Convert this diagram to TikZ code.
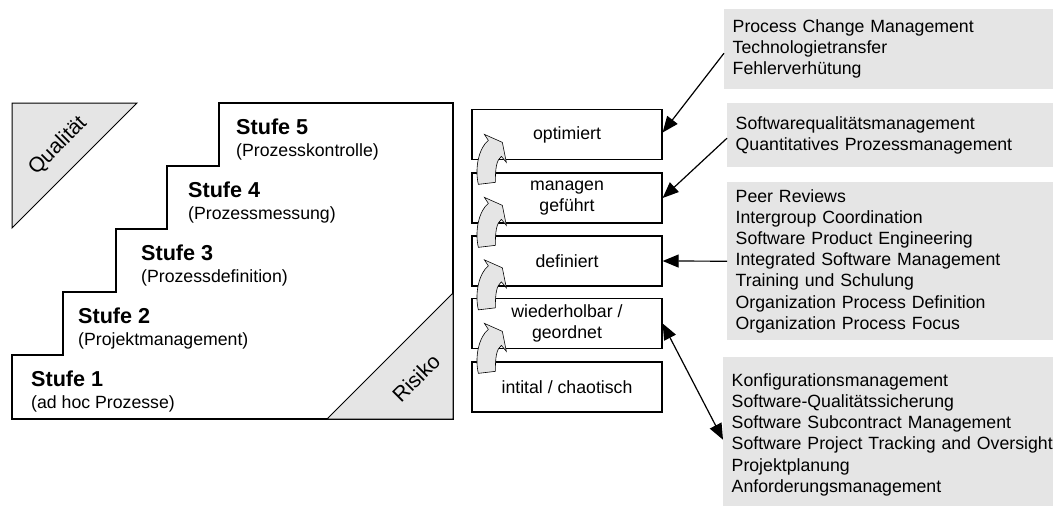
\documentclass[tikz,border=0pt]{standalone}
\usepackage{fontspec}
\setmainfont{Liberation Sans}
\usetikzlibrary{arrows.meta}

% gebogener Pfeil zwischen zwei Reifegraden
\newcommand{\stufenpfeil}[1]{%
  \filldraw[bogen, shift={(#1)}] (7,12) .. controls (3,-5) and (8,-25) .. (17,-32)
    -- (13,-38) -- (31,-30) -- (35,-10) -- (30,-16)
    .. controls (25,-12) and (24,-4) .. (24,10) -- cycle;}

\begin{document}
\begin{tikzpicture}[x=1pt, y=-1pt,
    lvl/.style={draw=black, line width=1.3pt, minimum width=190pt, minimum height=50pt, align=center, inner sep=0pt},
    infobox/.style={fill=gray!20, anchor=north west, inner xsep=8.5pt, inner ysep=0pt, align=left, text width=340pt},
    stufe/.style={anchor=base west, inner sep=0pt, font=\fontsize{21.6}{24}\selectfont\bfseries},
    subline/.style={anchor=base west, inner sep=0pt},
    tri/.style={fill=gray!20, draw=black, line width=1pt},
    trilabel/.style={rotate=45, font=\fontsize{21}{24}\selectfont},
    bogen/.style={fill=gray!20, draw=black, line width=0.6pt},
    conn/.style={-{Triangle[length=16pt,width=13pt]}, line width=1.2pt},
    font=\fontsize{17.7}{21.2}\selectfont
  ]
  \useasboundingbox (0,0) rectangle (1053,506);

  % Treppe
  \draw[line width=1.3pt] (12,419) -- (12,355) -- (63,355) -- (63,292) -- (116,292)
    -- (116,229) -- (167,229) -- (167,166) -- (219,166) -- (219,103) -- (453,103)
    -- (453,419) -- cycle;
  \draw[tri] (12,103) -- (137,103) -- (12,228) -- cycle;
  \draw[tri] (453,293) -- (453,419) -- (327,419) -- cycle;
  \node[trilabel] (qual) at (58,146) {Qualität};
  \node[trilabel] (risk) at (416,378) {Risiko};

  % Stufen
  \node[stufe] (s5) at (236,134) {Stufe 5};
  \node[subline] (s5b) at (236,156) {(Prozesskontrolle)};
  \node[stufe] (s4) at (188,197) {Stufe 4};
  \node[subline] (s4b) at (188,219) {(Prozessmessung)};
  \node[stufe] (s3) at (141,260) {Stufe 3};
  \node[subline] (s3b) at (141,282) {(Prozessdefinition)};
  \node[stufe] (s2) at (78,323) {Stufe 2};
  \node[subline] (s2b) at (78,345) {(Projektmanagement)};
  \node[stufe] (s1) at (31,386) {Stufe 1};
  \node[subline] (s1b) at (31,408) {(ad hoc Prozesse)};

  % Reifegrade
  \node[lvl] (l5) at (567,134.5) {optimiert};
  \node[lvl] (l4) at (567,198) {managen\\geführt};
  \node[lvl] (l3) at (567,261) {definiert};
  \node[lvl] (l2) at (567,323.5) {wiederholbar /\\geordnet};
  \node[lvl] (l1) at (567,387) {intital / chaotisch};

  \stufenpfeil{l4.north west}
  \stufenpfeil{l3.north west}
  \stufenpfeil{l2.north west}
  \stufenpfeil{l1.north west}

  % Schluesselbereiche
  \node[infobox, minimum height=80pt] (pA) at (724,9)
    {Process Change Management\\Technologietransfer\\Fehlerverhütung};
  \node[infobox, minimum height=64pt] (pB) at (727,103)
    {Softwarequalitätsmanagement\\Quantitatives Prozessmanagement};
  \node[infobox, minimum height=158pt] (pC) at (727,182)
    {Peer Reviews\\Intergroup Coordination\\Software Product Engineering\\Integrated Software Management\\Training und Schulung\\Organization Process Definition\\Organization Process Focus};
  \node[infobox, minimum height=155pt] (pD) at (723,357)
    {Konfigurationsmanagement\\Software-Qualitätssicherung\\Software Subcontract Management\\Software Project Tracking and Oversight\\Projektplanung\\Anforderungsmanagement};

  \draw[conn] ([yshift=-4pt]pA.west) -- ([yshift=2pt]l5.east);
  \draw[conn] ([yshift=-3pt]pB.west) -- (l4.east);
  \draw[conn] (pC.west) -- (l3.east);
  \draw[conn, {Triangle[length=16pt,width=13pt]}-{Triangle[length=16pt,width=13pt]}] (l2.east) -- ([yshift=-5pt]pD.west);

\end{tikzpicture}
\end{document}
